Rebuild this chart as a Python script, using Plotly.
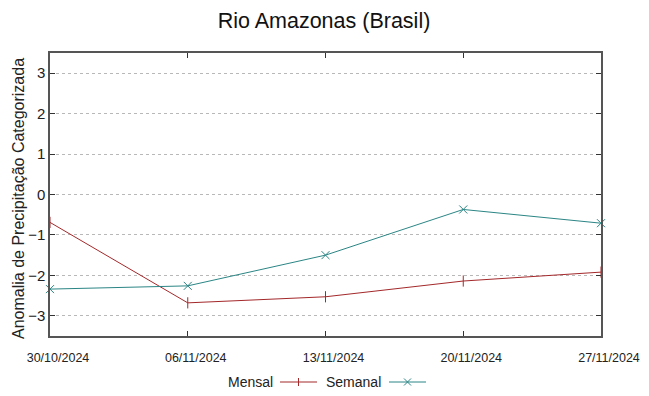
import plotly.graph_objects as go

dates = ["2024-10-30", "2024-11-06", "2024-11-13", "2024-11-20", "2024-11-27"]
date_labels = ["30/10/2024", "06/11/2024", "13/11/2024", "20/11/2024", "27/11/2024"]
mensal = [-0.69, -2.68, -2.53, -2.14, -1.92]
semanal = [-2.34, -2.26, -1.50, -0.37, -0.71]
y_ticks = [-3, -2, -1, 0, 1, 2, 3]

RED = "#a3282a"
TEAL = "#2b8585"
FONT = "Liberation Sans"

# page body has an 8px margin; work in reference pixel coords minus 8
OFF = 8
W, H = 649 - OFF, 396 - OFF
L, R, T, B = 50 - OFF, 649 - 601, 53 - OFF, 396 - 336
pw, ph = W - L - R, H - T - B

def px(x):
    return (x - OFF - L) / pw

def py(y):
    return (H - B - (y - OFF)) / ph

fig = go.Figure()
fig.add_trace(go.Scatter(x=dates, y=mensal, mode="lines+markers", name="Mensal",
                         line=dict(color=RED, width=1),
                         marker=dict(symbol="line-ns", size=8, line=dict(color=RED, width=1), color=RED),
                         cliponaxis=False, showlegend=False))
fig.add_trace(go.Scatter(x=dates, y=semanal, mode="lines+markers", name="Semanal",
                         line=dict(color=TEAL, width=1),
                         marker=dict(symbol="x-thin", size=8, line=dict(color=TEAL, width=1), color=TEAL),
                         cliponaxis=False, showlegend=False))

shapes = []
annotations = []
legend_items = [("Mensal", RED, 275, 280, 317, "plus"), ("Semanal", TEAL, 383, 389, 426, "x")]
ly = 382
for name, col, tx, x0, x1, mk in legend_items:
    annotations.append(dict(text=name, x=px(tx), y=py(ly), xref="paper", yref="paper",
                            xanchor="right", yanchor="middle", showarrow=False,
                            font=dict(family=FONT, size=14, color="#222")))
    shapes.append(dict(type="line", xref="paper", yref="paper", x0=px(x0), x1=px(x1),
                       y0=py(ly), y1=py(ly), line=dict(color=col, width=1)))
    cx = (x0 + x1) / 2
    if mk == "plus":
        shapes.append(dict(type="line", xref="paper", yref="paper", x0=px(cx), x1=px(cx),
                           y0=py(ly - 4), y1=py(ly + 4), line=dict(color=col, width=1)))
    else:
        shapes.append(dict(type="line", xref="paper", yref="paper", x0=px(cx - 3.5), x1=px(cx + 3.5),
                           y0=py(ly - 3.5), y1=py(ly + 3.5), line=dict(color=col, width=1)))
        shapes.append(dict(type="line", xref="paper", yref="paper", x0=px(cx - 3.5), x1=px(cx + 3.5),
                           y0=py(ly + 3.5), y1=py(ly - 3.5), line=dict(color=col, width=1)))

annotations.append(dict(text="Anomalia de Precipitação Categorizada", textangle=-90,
                        x=px(18), y=py(199), xref="paper", yref="paper",
                        xanchor="center", yanchor="middle", showarrow=False,
                        font=dict(family=FONT, size=16, color="#222")))

fig.update_layout(
    width=W, height=H,
    margin=dict(l=L, r=R, t=T, b=B, autoexpand=False),
    paper_bgcolor="white", plot_bgcolor="white",
    title=dict(text="Rio Amazonas (Brasil)", x=px(324), xref="paper", xanchor="center",
               y=1 - (20 - OFF) / H, yanchor="middle",
               font=dict(family=FONT, size=21.5, color="#111")),
    font=dict(family=FONT, color="#222"),
    shapes=shapes, annotations=annotations,
    showlegend=False,
)
fig.update_xaxes(
    type="date", range=[dates[0], dates[-1]],
    tickvals=dates, ticktext=date_labels,
    tickfont=dict(family="Liberation Sans Narrow, " + FONT, size=12.5, color="#222"),
    ticks="inside", ticklen=5, tickcolor="#333", mirror="ticks",
    ticklabelstandoff=9, ticklabelshift=8,
    showline=True, linecolor="#555", linewidth=1.5,
    showgrid=False, zeroline=False, automargin=False,
)
fig.update_yaxes(
    range=[-3.5, 3.5], tickvals=y_ticks,
    tickfont=dict(family=FONT, size=15, color="#222"),
    ticks="inside", ticklen=5, tickcolor="#333", mirror="ticks",
    showline=True, linecolor="#555", linewidth=1.5,
    showgrid=True, gridcolor="#b8b8b8", griddash="dot", gridwidth=1,
    zeroline=False, automargin=False,
)
fig.write_html("out.html")
